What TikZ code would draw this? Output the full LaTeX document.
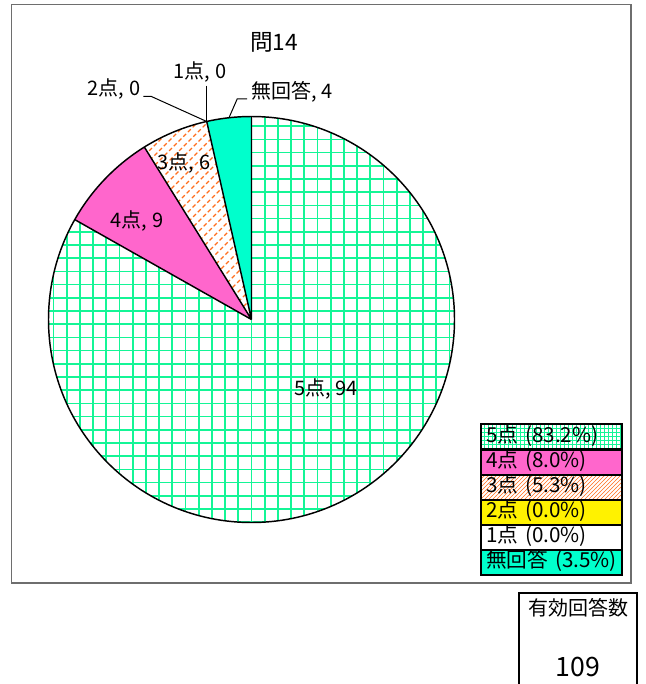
\documentclass[tikz,border=0pt]{standalone}
\usepackage{fontspec}
\setmainfont{Noto Sans CJK JP}
\usetikzlibrary{calc,patterns}

\definecolor{gridgreen}{RGB}{20,245,150}
\definecolor{slicepink}{RGB}{255,102,204}
\definecolor{sliceteal}{RGB}{0,255,204}
\definecolor{hatchorange}{RGB}{255,110,30}
\definecolor{framegray}{RGB}{110,110,110}

\tikzset{
    pielabel/.style={font=\fontsize{15}{17}\selectfont, inner sep=0pt},
    leader/.style={black, line width=0.75pt},
    legbox/.style={draw=black, line width=1.5pt, minimum height=18.8pt,
        text width=98pt, inner xsep=4pt, inner ysep=0pt, text height=11pt,
        text depth=3pt, align=left, font=\fontsize{15.5}{17}\selectfont},
}

\begin{document}
\begin{tikzpicture}[x=0.75pt, y=0.75pt]
    \useasboundingbox (0,0) rectangle (645,-684);
    \fill[white] (0,0) rectangle (645,-684);
    \draw[framegray, line width=1.1pt] (11.5,-4.5) rectangle (631,-583);

    \coordinate (c) at (251.5,-319.5);
    \def\R{152.25pt}

    % 5点 slice, green grid
    \begin{scope}
        \clip (c) -- ++(90:\R) arc[start angle=90, end angle=-209.47, radius=\R] -- cycle;
        \foreach \k in {-16,...,16}
            \draw[gridgreen, line width=1.25pt] (251.5+13.2*\k, -100) -- ++(0,-450);
        \foreach \k in {-16,...,17}
            \draw[gridgreen, line width=1.25pt] (30, -311-13.2*\k) -- ++(450,0);
    \end{scope}

    % 4点 slice
    \fill[slicepink] (c) -- ++(150.53:\R) arc[start angle=150.53, end angle=121.86, radius=\R] -- cycle;

    % 3点 slice, dashed hatching
    \begin{scope}
        \clip (c) -- ++(121.86:\R) arc[start angle=121.86, end angle=102.74, radius=\R] -- cycle;
        \foreach \k in {0,...,36}
            \draw[hatchorange, line width=0.9pt, dash pattern=on 3pt off 2pt] (-80+10*\k, -330) -- ++(230,230);
    \end{scope}

    % 無回答 slice
    \fill[sliceteal] (c) -- ++(102.74:\R) arc[start angle=102.74, end angle=90, radius=\R] -- cycle;

    % outlines
    \draw[black, line width=1.1pt] (c) circle[radius=\R];
    \draw[black, line width=1.1pt] (c) -- ++(90:\R) (c) -- ++(150.53:\R)
        (c) -- ++(121.86:\R) (c) -- ++(102.74:\R);

    \coordinate (p1) at ($(c)+(102.74:\R)$);
    \coordinate (pN) at ($(c)+(96.37:\R)$);

    \node[font=\fontsize{17}{19}\selectfont] (title) at (274,-42) {問14};

    \node[pielabel] (lab1) at (200,-72) {1点, 0};
    \node[pielabel] (lab2) at (114,-89) {2点, 0};
    \node[pielabel] (labN) at (292,-92) {無回答, 4};
    \node[pielabel] (lab3) at (184,-163) {3点, 6};
    \node[pielabel] (lab4) at (137,-221) {4点, 9};
    \node[pielabel] (lab5) at (326,-389) {5点, 94};

    \draw[leader] (lab1.south -| p1) ++(0,-3) -- (p1);
    \draw[leader] ($(lab2.east)+(3,-7.5)$) -- ++(8,0) -- (p1);
    \draw[leader] ($(labN.west)+(-4,-7)$) -- ++(-10,0) -- (pN);

    % legend
    \node[legbox, pattern=grid, pattern color=gridgreen] (leg5) at (551.5,-436.8) {5点 (83.2\%)};
    \node[legbox, fill=slicepink] (leg4) at (551.5,-462.1) {4点 (8.0\%)};
    \node[legbox, pattern=north east lines, pattern color=hatchorange] (leg3) at (551.5,-487.5) {3点 (5.3\%)};
    \node[legbox, fill=yellow] (leg2) at (551.5,-512.5) {2点 (0.0\%)};
    \node[legbox, fill=white] (leg1) at (551.5,-537.5) {1点 (0.0\%)};
    \node[legbox, fill=sliceteal] (legN) at (551.5,-562.5) {無回答 (3.5\%)};

    % valid answers box
    \draw[black, line width=1.5pt] (519,-684) -- (519,-593) -- (637,-593) -- (637,-684);
    \node[font=\fontsize{15}{17}\selectfont] (resp) at (578,-608) {有効回答数};
    \node[font=\fontsize{20}{22}\selectfont] (count) at (578,-667) {109};
\end{tikzpicture}
\end{document}
